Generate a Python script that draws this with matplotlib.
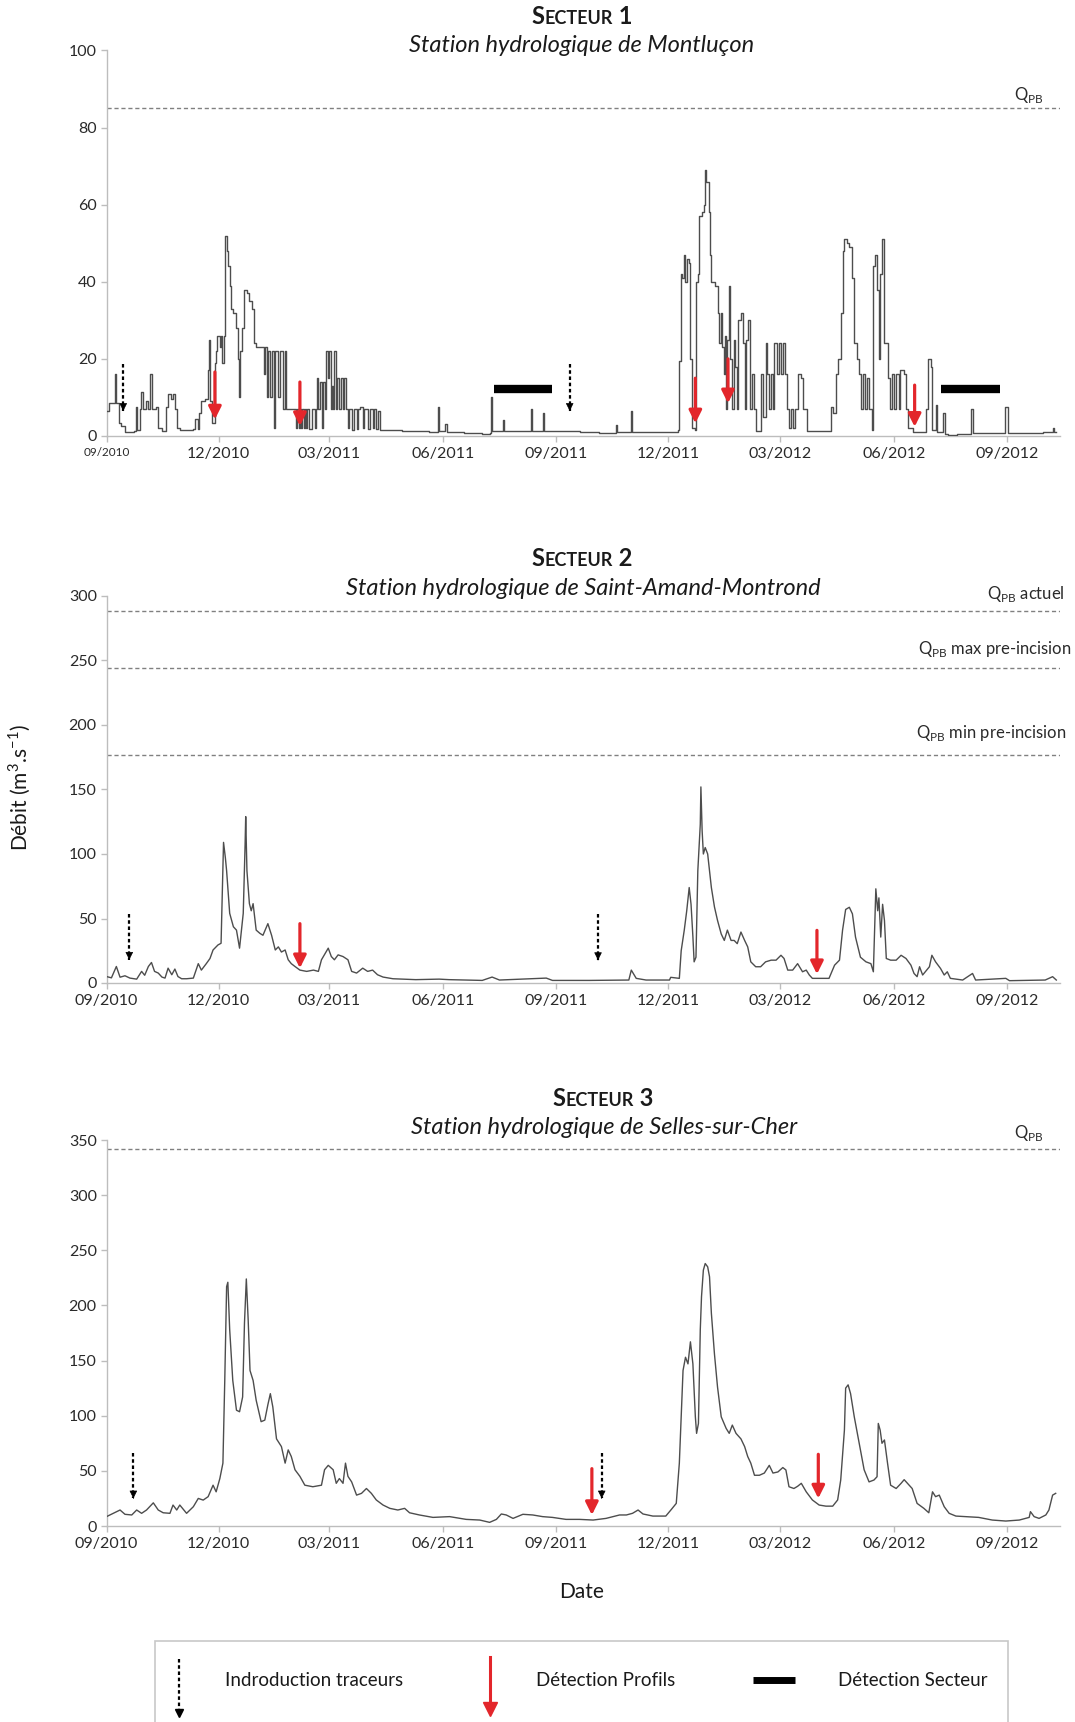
import matplotlib
matplotlib.use("Agg")
import matplotlib.pyplot as plt
import pandas as pd
from matplotlib.lines import Line2D
from matplotlib.patches import Rectangle
from matplotlib.offsetbox import TextArea, HPacker, AnnotationBbox

plt.rcParams['font.family'] = ['Lato', 'DejaVu Sans']

# ---------------- DATA (days after 2010-09-01, discharge m3/s) ----------------
BASE = pd.Timestamp('2010-09-01')

s1_days = [0, 2, 7, 8, 10, 12, 15, 22, 24, 25, 27, 28, 30, 32, 34, 35.5, 37, 40, 42, 45,
           48, 50, 52, 54, 56, 57.5, 60, 65, 70, 72, 74, 75, 77, 80, 82, 83, 84, 85.5, 87,
           88, 89, 90, 92, 93, 94, 95, 96, 97.5, 98.5, 100, 101, 103, 105, 106.5, 107.5,
           108.5, 110, 111.5, 114, 116, 118, 120, 121, 127, 128, 129, 130, 131, 133, 134.5,
           136, 137, 139, 141, 143, 144.5, 146, 149, 152, 154, 155, 156, 157, 158, 159, 160,
           161, 162, 163, 164, 166, 167, 169, 170, 171, 172, 173.5, 175, 176, 177, 178, 180,
           181, 182, 183, 184, 185, 186, 187, 188.5, 190, 192, 193, 194.5, 196, 197, 199,
           201, 203, 204, 206, 208, 209, 211, 212.5, 214, 216, 217, 219, 220.5, 222, 240,
           255, 262, 268.5, 269, 270, 275, 276, 290, 305, 311.5, 312, 313, 322, 323, 334,
           344.5, 345, 354, 355, 372, 384, 400, 413.5, 414, 425.5, 426.5, 440, 455, 464,
           465, 466, 467.5, 469, 470, 471, 472.5, 473.5, 475, 477.5, 478.5, 480, 481, 483,
           485, 485.5, 487, 489, 490, 491, 494, 496, 497.5, 498.5, 500, 501, 502, 503, 504,
           505.5, 506.5, 508, 509, 510.5, 512, 513, 515, 516.5, 518, 519, 520.5, 522, 524,
           526, 527.5, 530, 531.5, 533, 535, 536.5, 538, 539, 541, 542, 544, 546, 547.5,
           549, 550.5, 552, 554, 556, 557.5, 559, 561, 563.5, 565, 567, 569, 575, 587,
           588.5, 590, 592, 594, 596, 598, 599, 601, 603, 605, 607, 609, 611, 612.5, 614,
           616, 617.5, 619, 621, 622.5, 624, 625.5, 627, 628, 629.5, 631, 632.5, 634, 636,
           637.5, 639.5, 641, 643, 644.5, 647, 649, 651, 655, 659, 664, 665.5, 667, 669,
           670.5, 672, 673, 674.5, 677, 679, 680.5, 683, 690, 701, 702, 703.5, 729, 729.5,
           731.5, 760, 768, 769, 771]
s1_q = [6.5, 8.5, 16, 8.5, 3.5, 2.5, 1.0, 1.3, 7.5, 1.5, 7, 11.5, 7, 9, 7, 16, 7, 7.5, 2, 1.2,
        7.5, 11, 9.5, 11, 7, 2, 1.5, 1.5, 1.8, 4.5, 1.8, 6, 9, 9.5, 17, 25, 9, 3.5, 3.5,
        19, 22, 26, 23, 26, 19, 26, 52, 48, 44, 39, 33, 32, 28, 20, 10,
        22, 28, 38, 37, 35, 33, 24, 23, 23, 16, 23, 10, 22, 10, 22,
        2, 22, 10, 22, 7, 22, 7, 7, 7, 2, 7, 2, 7, 2, 7, 2,
        7, 2, 7, 1.7, 1.7, 7, 2, 7, 15, 7, 14, 2, 14, 7, 22, 15,
        22, 7, 13, 7, 22, 7, 15, 7, 15, 7, 15, 7, 2, 7, 1.5,
        7, 1.7, 7, 7.5, 2, 7, 7, 1.7, 7, 2, 7, 1.7, 6.5, 1.5, 1.4,
        1.2, 1.0, 1.0, 7.5, 1.2, 3, 1.0, 0.8, 0.6, 0.8, 10, 1.2, 4.2, 1.3, 1.3,
        7, 1.3, 6, 1.2, 1.2, 1.0, 0.9, 2.9, 1.0, 6.6, 1.1, 1.0, 1.0, 1.5,
        19.5, 42, 41, 47, 40, 46, 45, 20, 2, 1.5, 40, 42, 57, 58,
        60, 69, 66, 58, 47, 40, 39, 32, 24, 32, 23, 16, 26, 7, 25,
        39, 20, 7, 25, 18, 7, 30, 32, 24, 7, 25, 30, 7, 16,
        7, 1.3, 1.3, 16, 5, 24, 16, 7, 16, 7, 24, 16, 24, 16,
        24, 16, 7, 2, 7, 2, 7, 16, 15, 7, 7, 1.3, 1.2, 1.2,
        7.5, 6, 16, 20, 32, 48, 51, 50, 49, 41, 24, 20, 16, 7, 16,
        7, 15, 7, 1.5, 44, 47, 38, 20, 42, 51, 24, 24, 15, 7,
        16, 7, 16, 7, 17, 16, 7, 2, 1.0, 1.0, 1.0, 7, 20, 18,
        1.5, 1.5, 8, 1, 1, 6, 0.5, 0.2, 0.6, 0.6, 7, 0.7, 0.8, 7.5,
        0.8, 1.0, 2, 1.0, 1.0]

s2_days = [0, 4, 8, 11, 15, 19, 24.5, 28.5, 31, 34, 36.5, 39, 42, 45, 47.5, 50, 53, 55.5, 58,
           61, 65, 70.5, 74.5, 77, 81, 84, 86.5, 90.5, 93, 95, 96.5, 97.5, 100, 103, 105.5,
           108, 111, 112.5, 113, 114, 116, 117.5, 119, 121.5, 124.5, 127, 131, 134, 137,
           139.5, 142, 145, 147.5, 150, 153, 157, 162.5, 168, 172, 174.5, 180, 182.5, 185,
           188, 192, 196, 199, 203, 208, 212, 216, 220, 224.5, 232.5, 251, 270, 278, 305,
           313, 319, 357, 362, 392, 424, 426, 430, 438, 457, 458, 465, 466.5, 469, 471, 473,
           474.5, 476, 477, 478.5, 480, 482, 482.5, 483.5, 484.5, 486, 488, 491, 493.5, 496,
           499, 501.5, 504, 507, 509.5, 512, 515, 518, 520.5, 523, 527, 531, 535, 539.5,
           543.5, 547.5, 550, 553, 557, 561, 565, 568, 570.5, 573, 578.5, 586.5, 591, 595,
           597.5, 600, 603, 605.5, 608, 612, 616.5, 620.5, 622.5, 624.5, 626, 627, 628.5,
           630, 631.5, 633, 636.5, 641, 645, 649, 653, 655.5, 658, 660, 662.5, 668, 670,
           673, 677, 680, 682.5, 685, 695, 703, 705.5, 730, 733, 762, 768, 771]
s2_q = [5, 4, 12.8, 4.5, 5.6, 3.8, 3, 9, 6, 12.8, 15.9, 9, 7.7, 4.6, 3.8, 11.5, 6.4, 10.8, 5,
        3.3, 3.3, 3.8, 15, 10, 15, 19, 25.6, 29.5, 30.8, 109, 97, 87, 54, 43.6, 41,
        27, 54, 107, 129, 87, 61.5, 56, 61.5, 41, 38.5, 37, 46, 37, 25.6,
        28, 24, 25.6, 18, 15, 12.8, 10, 9, 10, 9, 18, 27, 20.5, 18,
        21.8, 20.5, 18, 9, 7.7, 11.5, 9, 10, 6.4, 4.6, 3.3, 2.6, 3, 2.6, 2,
        4.6, 2.3, 3.8, 2, 2, 2.3, 10, 3.6, 2.3, 2.3, 4.4, 3.6, 25, 41, 56, 74,
        61, 36, 16.4, 20, 87, 123, 152, 118, 100, 105, 100, 74, 59, 48.5,
        38, 33, 41, 33, 33, 30.5, 39.5, 33, 28, 16.4, 12.6, 12.6, 16.4, 17.7,
        17.7, 21.5, 19, 10, 10, 15, 8.7, 10, 6.2, 3.6, 3.6, 3.6, 13.8, 17.7,
        41, 57, 58.7, 53.6, 35.6, 20, 16.4, 15, 8.7, 73, 56, 66, 35.6,
        61, 48.5, 19, 17.7, 17.7, 21.5, 19, 13.8, 7.4, 4.9, 12.6, 6.2, 12.6, 21.5,
        16.4, 11.3, 6.2, 8.7, 3.6, 2.3, 7.4, 2.3, 3.6, 1.8, 2.3, 4.9, 2.3]

s3_days = [0, 5.5, 11, 15, 20.5, 24.5, 28.5, 32.5, 38, 42, 46, 51.5, 54, 57, 59.5, 65, 70.5,
           74.5, 78.5, 82.5, 86.5, 89, 92, 94.5, 96, 97.5, 98.5, 100, 102.5, 105.5, 108,
           110.5, 112, 113.5, 115, 116.5, 119, 121.5, 125.5, 128.5, 131, 133, 135, 138, 142,
           145, 147.5, 150, 153, 157, 161, 167.5, 174.5, 177, 180, 184, 186.5, 189, 192,
           194, 196, 199, 203, 207, 211, 215, 219, 224.5, 230, 236.5, 242, 246, 254, 265,
           278.5, 292, 303, 311, 316.5, 320.5, 324.5, 330, 338, 346, 354, 362, 373, 384,
           395, 405.5, 411, 416.5, 422, 427, 431.5, 435.5, 443.5, 454, 458.5, 462.5, 465,
           468, 470, 472, 474, 476, 478, 479, 480.5, 482, 483, 484.5, 486, 488, 489.5, 491,
           493.5, 496, 499, 503, 505.5, 508, 511, 515, 518, 520.5, 523, 526, 530, 534, 538,
           541, 545, 549, 551.5, 554, 558, 561, 564, 568, 573, 578.5, 584, 589.5, 593.5,
           596, 599, 600, 602, 604, 607, 611, 615, 619, 623, 625.5, 626.5, 628, 629.5,
           631.5, 634, 636.5, 641, 645, 647.5, 651.5, 654, 658, 663.5, 667.5, 670.5, 673,
           676, 680, 684, 689.5, 697.5, 708, 719, 730, 741, 749, 750, 753, 757, 762.5, 765,
           768, 770.5]
s3_q = [8.5, 11.5, 14.5, 10.6, 10, 14.5, 11.5, 14.5, 21, 14.5, 12, 11.5, 19, 14.5, 19, 11.5,
        17.5, 25, 23.5, 26.6, 37, 31, 43, 57, 132, 217, 221, 178, 132, 105, 103.6,
        117, 184, 224, 187, 141, 132, 114, 94.6, 96, 110, 120, 108, 79, 72,
        57, 69, 63, 51, 45, 37, 35.6, 37, 51, 55, 51, 38.7, 43, 38.7,
        57, 45, 40, 28, 29.6, 34, 29.6, 23.6, 19, 16, 14.5, 16, 12, 10, 7.8,
        8.5, 6, 5.4, 3.3, 6, 10.9, 10, 6.9, 10.6, 10, 8.5, 7.8, 6, 6,
        5.4, 6.9, 8.5, 10, 10, 11.5, 14.5, 10.9, 9, 9, 15, 20.5, 57,
        141, 153, 147, 167, 147, 99, 84, 93, 178, 208, 232, 238, 235, 226, 193,
        156, 126, 99, 88.5, 84, 91.5, 84, 79, 72, 63, 57, 46, 46, 48, 55,
        48, 49, 53, 50.8, 35.6, 34, 36, 38.7, 31, 23.6, 19, 18, 18, 23.6,
        41.7, 87, 125, 128, 120, 99, 75, 51, 40, 41.7, 44.7, 93, 87, 75,
        78, 57, 37, 34, 38.7, 42, 37, 34, 20.5, 16, 12, 31, 26.6,
        28, 17.5, 11.5, 9, 8.5, 7.8, 5.4, 4.5, 5.4, 7.8, 13, 8.5, 6.9, 10, 14.5,
        28, 29.6]

# annotations: (day, top value, tip value)
s1_tracer = [(13.6, 18.8, 6.5), (376, 18.8, 6.5)]
s1_profil = [(88, 16.6, 4.3), (157, 14.0, 2.6), (478, 15.0, 3.3), (504.5, 20.0, 8.5), (656, 13.2, 2.4)]
s1_secteur = [(314.6, 361.5, 12.1), (677, 725, 12.1)]
s2_tracer = [(18.5, 53.8, 18), (399, 53.6, 17.7)]
s2_profil = [(157, 46, 11.5), (576.7, 40.8, 6.9)]
s3_tracer = [(21.8, 66, 25), (402, 66, 25)]
s3_profil = [(394, 52, 10), (577.8, 65, 25)]

s1_qpb = [85]
s2_qpb = [288, 244, 177]
s3_qpb = [342]

tick_dates = ['2010-09-01', '2010-12-01', '2011-03-01', '2011-06-01', '2011-09-01',
              '2011-12-01', '2012-03-01', '2012-06-01', '2012-09-01']
tick_labels = ['09/2010', '12/2010', '03/2011', '06/2011', '09/2011',
               '12/2011', '03/2012', '06/2012', '09/2012']

# ---------------- FIGURE ----------------
W, H = 1075, 1722
fig = plt.figure(figsize=(W / 100, H / 100), dpi=100)


def fx(x):
    return x / W


def fy(y):
    return 1 - y / H


def to_dates(days):
    return BASE + pd.to_timedelta(days, unit='D')


LINE_C = '#4d4d4d'
SPINE_C = '#bdbdbd'
TXT_C = '#2a2a2a'


def make_axes(y0px, ytop_px, ymax, ystep):
    ax = fig.add_axes([fx(106.5), fy(y0px), fx(1060) - fx(106.5), (y0px - ytop_px) / H])
    ax.set_xlim(BASE, BASE + pd.Timedelta(days=774))
    ax.set_ylim(0, ymax)
    for s in ['top', 'right']:
        ax.spines[s].set_visible(False)
    for s in ['left', 'bottom']:
        ax.spines[s].set_color(SPINE_C)
        ax.spines[s].set_linewidth(1.0)
    ax.set_yticks(range(0, ymax + 1, ystep))
    ax.set_xticks(pd.to_datetime(tick_dates))
    ax.set_xticklabels(tick_labels)
    ax.tick_params(axis='both', colors=SPINE_C, labelcolor=TXT_C, labelsize=11.5,
                   length=4, width=1)
    ax.tick_params(axis='x', pad=4)
    ax.tick_params(axis='y', pad=3)
    ax.patch.set_alpha(0)
    return ax


def draw_tracer(ax, items):
    for d, top, tip in items:
        dt = to_dates([d])[0]
        ax.plot([dt, dt], [top, tip], color='black', lw=1.6, ls=(0, (1.6, 1.2)),
                solid_capstyle='butt', zorder=5)
        ax.annotate('', xy=(dt, tip), xytext=(dt, tip + 0.001 * ax.get_ylim()[1]),
                    arrowprops=dict(arrowstyle='-|>', color='black', lw=0.5,
                                    mutation_scale=12), zorder=6)


def draw_profil(ax, items):
    for d, top, tip in items:
        dt = to_dates([d])[0]
        ax.annotate('', xy=(dt, tip), xytext=(dt, top),
                    arrowprops=dict(arrowstyle='-|>', color='#e3262b', lw=2.3,
                                    mutation_scale=19, shrinkA=0, shrinkB=0), zorder=6)


def draw_secteur(ax, items):
    for d1, d2, v in items:
        ax.plot(to_dates([d1, d2]), [v, v], color='black', lw=6, solid_capstyle='butt', zorder=6)


def qlabel(xc, yc, extra='', ha='center'):
    fig.text(fx(xc), fy(yc), r'Q$_{\mathregular{PB}}$' + extra, fontsize=12, color=TXT_C,
             ha=ha, va='center')


# Panel 1
ax1 = make_axes(436, 50.5, 100, 20)
ax1.plot(to_dates(s1_days), s1_q, color=LINE_C, lw=1.0, drawstyle='steps-post', zorder=3)
for v in s1_qpb:
    ax1.axhline(v, color='#808080', lw=1.0, ls=(0, (3, 2)), zorder=2)
draw_tracer(ax1, s1_tracer)
draw_profil(ax1, s1_profil)
draw_secteur(ax1, s1_secteur)
ax1.get_xticklabels()[0].set_fontsize(8.5)

# Panel 2
ax2 = make_axes(983, 596, 300, 50)
ax2.plot(to_dates(s2_days), s2_q, color=LINE_C, lw=1.0, zorder=3)
for v in s2_qpb:
    ax2.axhline(v, color='#808080', lw=1.0, ls=(0, (3, 2)), zorder=2)
draw_tracer(ax2, s2_tracer)
draw_profil(ax2, s2_profil)

# Panel 3
ax3 = make_axes(1526, 1140, 350, 50)
ax3.plot(to_dates(s3_days), s3_q, color=LINE_C, lw=1.0, zorder=3)
for v in s3_qpb:
    ax3.axhline(v, color='#808080', lw=1.0, ls=(0, (3, 2)), zorder=2)
draw_tracer(ax3, s3_tracer)
draw_profil(ax3, s3_profil)


# Titles
def sc_title(xc, yc, num):
    parts = [TextArea('S', textprops=dict(fontsize=17, fontweight='bold', color='#1a1a1a')),
             TextArea('ECTEUR', textprops=dict(fontsize=13, fontweight='bold', color='#1a1a1a')),
             TextArea(' ' + num, textprops=dict(fontsize=17, fontweight='bold', color='#1a1a1a'))]
    box = HPacker(children=parts, align='baseline', pad=0, sep=0)
    ab = AnnotationBbox(box, (fx(xc), fy(yc)), xycoords='figure fraction', frameon=False,
                        box_alignment=(0.5, 0.5))
    fig.add_artist(ab)


SUB_FS = 17
sc_title(582, 17, '1')
fig.text(fx(582), fy(46), 'Station hydrologique de Montluçon', fontsize=SUB_FS, style='italic',
         color='#1a1a1a', ha='center', va='center')
sc_title(582, 559, '2')
fig.text(fx(583), fy(588), 'Station hydrologique de Saint-Amand-Montrond', fontsize=SUB_FS,
         style='italic', color='#1a1a1a', ha='center', va='center')
sc_title(603, 1099, '3')
fig.text(fx(604), fy(1128), 'Station hydrologique de Selles-sur-Cher', fontsize=SUB_FS,
         style='italic', color='#1a1a1a', ha='center', va='center')

# Q labels
qlabel(1029, 95)
qlabel(1065, 594, ' actuel', ha='right')
qlabel(1071, 649, ' max pre-incision', ha='right')
qlabel(1066, 733, ' min pre-incision', ha='right')
qlabel(1029, 1133)

# Axis labels
fig.text(fx(20), fy(788), r'Débit (m$^{\mathregular{3}}$.s$^{\mathregular{-1}}$)', rotation=90,
         fontsize=15, color='#1a1a1a', ha='center', va='center')
fig.text(fx(582), fy(1592), 'Date', fontsize=15, color='#1a1a1a', ha='center', va='center')

# Legend box
fig.add_artist(Rectangle((fx(155), fy(1722 + 5)), fx(1008) - fx(155), (1722 + 5 - 1641) / H,
                         transform=fig.transFigure, facecolor='white', edgecolor='#c8c8c8',
                         lw=1.2))
fig.add_artist(Line2D([fx(179), fx(179)], [fy(1659), fy(1712)], transform=fig.transFigure,
                      color='black', lw=1.6, ls=(0, (1.6, 1.2))))
fig.add_artist(Line2D([fx(179)], [fy(1713)], transform=fig.transFigure, color='black',
                      marker='v', markersize=6, lw=0))
fig.text(fx(225), fy(1680), 'Indroduction traceurs', fontsize=13.5, color='#1a1a1a',
         ha='left', va='center')
fig.add_artist(Line2D([fx(490), fx(490)], [fy(1657), fy(1706)], transform=fig.transFigure,
                      color='#e3262b', lw=2.2))
fig.add_artist(Line2D([fx(490)], [fy(1709)], transform=fig.transFigure, color='#e3262b',
                      marker='v', markersize=10, lw=0))
fig.text(fx(536), fy(1680), 'Détection Profils', fontsize=13.5, color='#1a1a1a',
         ha='left', va='center')
fig.add_artist(Line2D([fx(753), fx(795)], [fy(1680), fy(1680)], transform=fig.transFigure,
                      color='black', lw=5, solid_capstyle='butt'))
fig.text(fx(838), fy(1680), 'Détection Secteur', fontsize=13.5, color='#1a1a1a',
         ha='left', va='center')

fig.savefig('out.png', dpi=100, facecolor='white')
